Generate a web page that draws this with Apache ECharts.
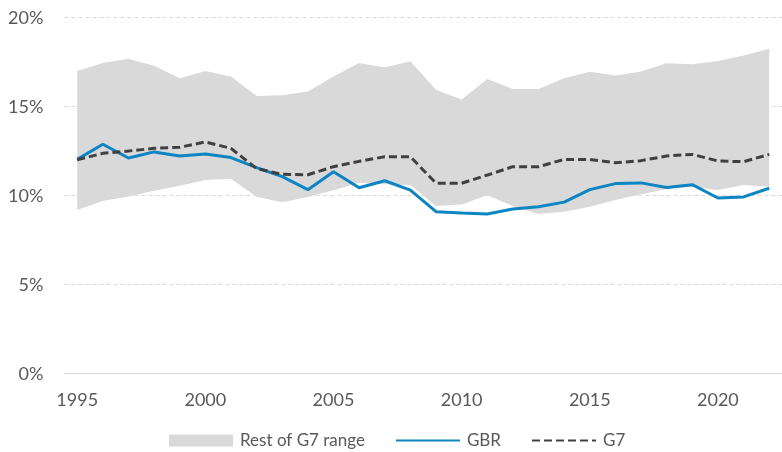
<!DOCTYPE html>
<html>
<head>
<meta charset="utf-8">
<script src="https://cdn.jsdelivr.net/npm/echarts@6/dist/echarts.min.js"></script>
<style>
  html, body { margin: 0; padding: 0; background: #ffffff; }
  #chart { width: 782px; height: 452px; }
</style>
</head>
<body>
<div id="chart"></div>
<script>
// Years on the category axis
const years = ['1995','1996','1997','1998','1999','2000','2001','2002','2003','2004',
  '2005','2006','2007','2008','2009','2010','2011','2012','2013','2014',
  '2015','2016','2017','2018','2019','2020','2021','2022'];

// United Kingdom (%)
const gbr = [12.04, 12.89, 12.12, 12.46, 12.23, 12.34, 12.14, 11.58, 11.07, 10.34,
  11.35, 10.45, 10.84, 10.31, 9.10, 9.03, 8.97, 9.25, 9.38, 9.64,
  10.34, 10.68, 10.72, 10.46, 10.62, 9.87, 9.93, 10.42];

// G7 aggregate (%)
const g7 = [12.02, 12.38, 12.51, 12.66, 12.72, 13.02, 12.66, 11.52, 11.20, 11.18,
  11.63, 11.93, 12.19, 12.19, 10.70, 10.70, 11.16, 11.63, 11.63, 12.04,
  12.04, 11.85, 11.97, 12.23, 12.32, 11.95, 11.91, 12.32];

// Lowest and highest of the other G7 members (%)
const restMin = [9.20, 9.70, 9.95, 10.28, 10.56, 10.88, 10.95, 9.94, 9.63, 9.92,
  10.30, 10.73, 10.65, 10.60, 9.42, 9.50, 10.02, 9.42, 8.97, 9.10,
  9.38, 9.76, 10.08, 10.38, 10.50, 10.32, 10.60, 10.50];
const restMax = [17.00, 17.45, 17.70, 17.30, 16.60, 17.00, 16.70, 15.60, 15.65, 15.85,
  16.70, 17.45, 17.20, 17.55, 15.95, 15.40, 16.55, 16.00, 16.00, 16.60,
  16.97, 16.75, 16.98, 17.44, 17.38, 17.57, 17.88, 18.25];

// Y axis ticks
const yTicks = [0, 5, 10, 15, 20];

const FONT = 'Lato, "Liberation Sans", sans-serif';
const TEXT = '#595959';
const GRIDC = '#D9D9D9';

// Band drawn as a stack: invisible base at the minimum, then the span up to the maximum
const bandSpan = restMax.map((v, i) => +(v - restMin[i]).toFixed(2));

const chart = echarts.init(document.getElementById('chart'), null, { renderer: 'canvas' });

chart.setOption({
  animation: false,
  textStyle: { fontFamily: FONT },
  grid: { left: 64.4, right: -4.2, top: 17.7, bottom: 78.3, containLabel: false },
  legend: {
    left: 164,
    top: 427,
    itemWidth: 64,
    itemHeight: 12,
    itemGap: 30,
    textStyle: { color: TEXT, fontSize: 17, fontFamily: FONT, padding: [0, 0, 0, 2] },
    data: [
      { name: 'Rest of G7 range', icon: 'rect', itemStyle: { color: '#D9D9D9' } },
      { name: 'GBR', itemStyle: { opacity: 0 } },
      { name: 'G7', itemStyle: { opacity: 0 } }
    ]
  },
  xAxis: {
    type: 'category',
    data: years,
    boundaryGap: true,
    axisLine: { lineStyle: { color: GRIDC, width: 1 } },
    axisTick: { inside: true, length: 5, interval: 0, lineStyle: { color: GRIDC } },
    axisLabel: { interval: 4, color: TEXT, fontSize: 18, margin: 17, fontFamily: FONT },
    splitLine: { show: false }
  },
  yAxis: {
    type: 'value',
    min: yTicks[0],
    max: yTicks[yTicks.length - 1],
    interval: yTicks[1] - yTicks[0],
    axisLine: { show: false },
    axisTick: { show: false },
    axisLabel: { formatter: '{value}%', color: TEXT, fontSize: 18, margin: 21, fontFamily: FONT },
    splitLine: { lineStyle: { color: GRIDC, type: [4, 3], width: 1 } }
  },
  series: [
    {
      name: 'base',
      type: 'line',
      stack: 'band',
      data: restMin,
      symbol: 'none',
      lineStyle: { opacity: 0 },
      silent: true,
      z: 1
    },
    {
      name: 'Rest of G7 range',
      type: 'line',
      stack: 'band',
      data: bandSpan,
      symbol: 'none',
      color: '#D9D9D9',
      lineStyle: { opacity: 0, width: 0 },
      areaStyle: { color: '#D9D9D9', opacity: 1 },
      silent: true,
      z: 1
    },
    {
      name: 'GBR',
      type: 'line',
      data: gbr,
      symbol: 'none',
      color: '#0C85C2',
      lineStyle: { color: '#0C85C2', width: 3 },
      z: 3
    },
    {
      name: 'G7',
      type: 'line',
      data: g7,
      symbol: 'none',
      color: '#404040',
      lineStyle: { color: '#404040', width: 3, type: [8, 4] },
      z: 4
    }
  ]
});
</script>
</body>
</html>
